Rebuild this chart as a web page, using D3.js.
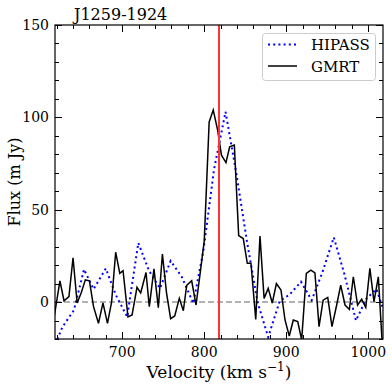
<!DOCTYPE html>
<html><head><meta charset="utf-8">
<script src="https://cdn.jsdelivr.net/npm/d3@7"></script>
<style>body{margin:0;background:#fff}svg{display:block}text{font-family:"DejaVu Serif",serif;fill:#000}</style>
</head><body>
<svg id="c" width="392" height="392"></svg>
<script>
const gmrtVel = [617,624,629,635,640,645,650,655,660,665,671,676.5,682,687,692,697,701,707,712,718,722.5,729,733,738.7,744,749,754,759,764,769.6,774.5,778.6,784.7,790,795,800,806,811,816.4,821,826.5,831,836.7,842,847.6,852.5,857,862.8,868,873,878,883,888,893.6,898.5,903.7,908.6,914,918.8,924.5,930,935,940,945,950.6,955.8,961.5,966.4,971.7,977,981.8,987,992,997,1002,1007,1012.3,1017];
const gmrtFlux = [-8,11.5,0.7,3,24,-0.5,5,12,11.5,-2.5,-11.5,-0.4,-11.5,0,27,15.5,17,-8,-7,8,5,16,-2.5,18,-3,26,5,-9,-7.5,2,-4.7,9,11.5,-1.6,15.5,33,97.5,104,93,79.5,75.5,84,85,36,34.4,21,21,-9.4,35.7,2,7.4,-0.5,10,6.5,-9.7,-18.4,-9.7,-10.6,-20.5,15.5,17.3,15.8,-13.3,1,2.5,-13.3,-1.6,9.2,-1.6,-4,13.7,-1.6,1.5,-2.9,18.2,0.2,13.7,-22];
const hipassVel = [613.8,627,641,653.4,665,680,692,706,719.6,732.6,746,759,772.5,786.7,799,812,826,839,852,865,878,892,904,918,931,944,958,971,985,998,1010,1023];
const hipassFlux = [-28,-13.5,-4.5,17.7,7,18.2,4,-8,32,17,7.4,22.3,13.7,-0.7,28,72,103,70,33,0,-19,0.5,4,11,1,16,35,15,-10,2,7,-10];
const markerVel = 818;
const xTicks = [700,800,900,1000];
const yTicks = [0,50,100,150];
const seriesNames = ["HIPASS","GMRT"];
const titleText = "J1259-1924";

const svg = d3.select("#c");
const L=55,R=383,T=25,B=339;
const x = d3.scaleLinear().domain([618,1018]).range([L,R]);
const y = d3.scaleLinear().domain([-20,150]).range([B,T]);

svg.append("defs").append("clipPath").attr("id","clip").append("rect")
  .attr("x",L).attr("y",T).attr("width",R-L).attr("height",B-T);
const plot = svg.append("g").attr("clip-path","url(#clip)");

// zero line
plot.append("line").attr("x1",L).attr("x2",R).attr("y1",y(0)).attr("y2",y(0))
  .attr("stroke","#999").attr("stroke-width",1.5).attr("stroke-dasharray","6,3");

const line = d3.line().x(d=>x(d[0])).y(d=>y(d[1]));
plot.append("path").datum(hipassVel.map((v,i)=>[v,hipassFlux[i]])).attr("d",line)
  .attr("fill","none").attr("stroke","#0000ff").attr("stroke-width",2).attr("stroke-dasharray","2,3.2");
plot.append("path").datum(gmrtVel.map((v,i)=>[v,gmrtFlux[i]])).attr("d",line)
  .attr("fill","none").attr("stroke","#000").attr("stroke-width",1.5).attr("stroke-linejoin","miter");
plot.append("line").attr("x1",x(markerVel)).attr("x2",x(markerVel)).attr("y1",T).attr("y2",B)
  .attr("stroke","#f33").attr("stroke-width",2);

// axes with inward ticks on all sides
const xMinor = d3.range(620,1020,20);
const yMinor = d3.range(-20,151,10);
const g = svg.append("g");
function tickLines(vals, len, isX){
  vals.forEach(v=>{
    if(isX){
      const px = Math.round(x(v))+0.5;
      g.append("line").attr("x1",px).attr("x2",px).attr("y1",B).attr("y2",B-len).attr("stroke","#000");
      g.append("line").attr("x1",px).attr("x2",px).attr("y1",T).attr("y2",T+len).attr("stroke","#000");
    } else {
      const py = Math.round(y(v))+0.5;
      g.append("line").attr("x1",L).attr("x2",L+len).attr("y1",py).attr("y2",py).attr("stroke","#000");
      g.append("line").attr("x1",R).attr("x2",R-len).attr("y1",py).attr("y2",py).attr("stroke","#000");
    }
  });
}
tickLines(xMinor,4,true);
tickLines(xTicks,7,true);
tickLines(yMinor,4,false);
tickLines(yTicks,7,false);
g.append("rect").attr("x",L).attr("y",T).attr("width",R-L).attr("height",B-T)
  .attr("fill","none").attr("stroke","#000").attr("stroke-width",1.2);

xTicks.forEach(v=>{
  g.append("text").attr("x",x(v)).attr("y",B+18).attr("text-anchor","middle")
    .attr("font-size",14).text(v);
});
yTicks.forEach(v=>{
  g.append("text").attr("x",L-6).attr("y",y(v)+5).attr("text-anchor","end")
    .attr("font-size",14).text(v);
});

// labels
const xl = svg.append("text").attr("x",(L+R)/2).attr("y",378).attr("text-anchor","middle").attr("font-size",17);
xl.append("tspan").text("Velocity (km s");
xl.append("tspan").attr("dy",-7).attr("font-size",12).text("\u22121");
xl.append("tspan").attr("dy",7).text(")");
svg.append("text").attr("transform","translate(20,182) rotate(-90)").attr("text-anchor","middle")
  .attr("font-size",16).text("Flux (m Jy)");
svg.append("text").attr("x",74).attr("y",20).attr("font-size",16).text(titleText);

// legend
const lg = svg.append("g");
lg.append("rect").attr("x",262.5).attr("y",33.5).attr("width",113).attr("height",47).attr("rx",3)
  .attr("fill","#fff").attr("fill-opacity",0.8).attr("stroke","#ccc");
lg.append("line").attr("x1",268).attr("x2",297).attr("y1",44.5).attr("y2",44.5)
  .attr("stroke","#0000ff").attr("stroke-width",2).attr("stroke-dasharray","2,3.2");
lg.append("line").attr("x1",268).attr("x2",297).attr("y1",66).attr("y2",66)
  .attr("stroke","#000").attr("stroke-width",1.5);
lg.append("text").attr("x",311).attr("y",50).attr("font-size",15).text(seriesNames[0]);
lg.append("text").attr("x",311).attr("y",71.5).attr("font-size",15).text(seriesNames[1]);
</script>
</body></html>
